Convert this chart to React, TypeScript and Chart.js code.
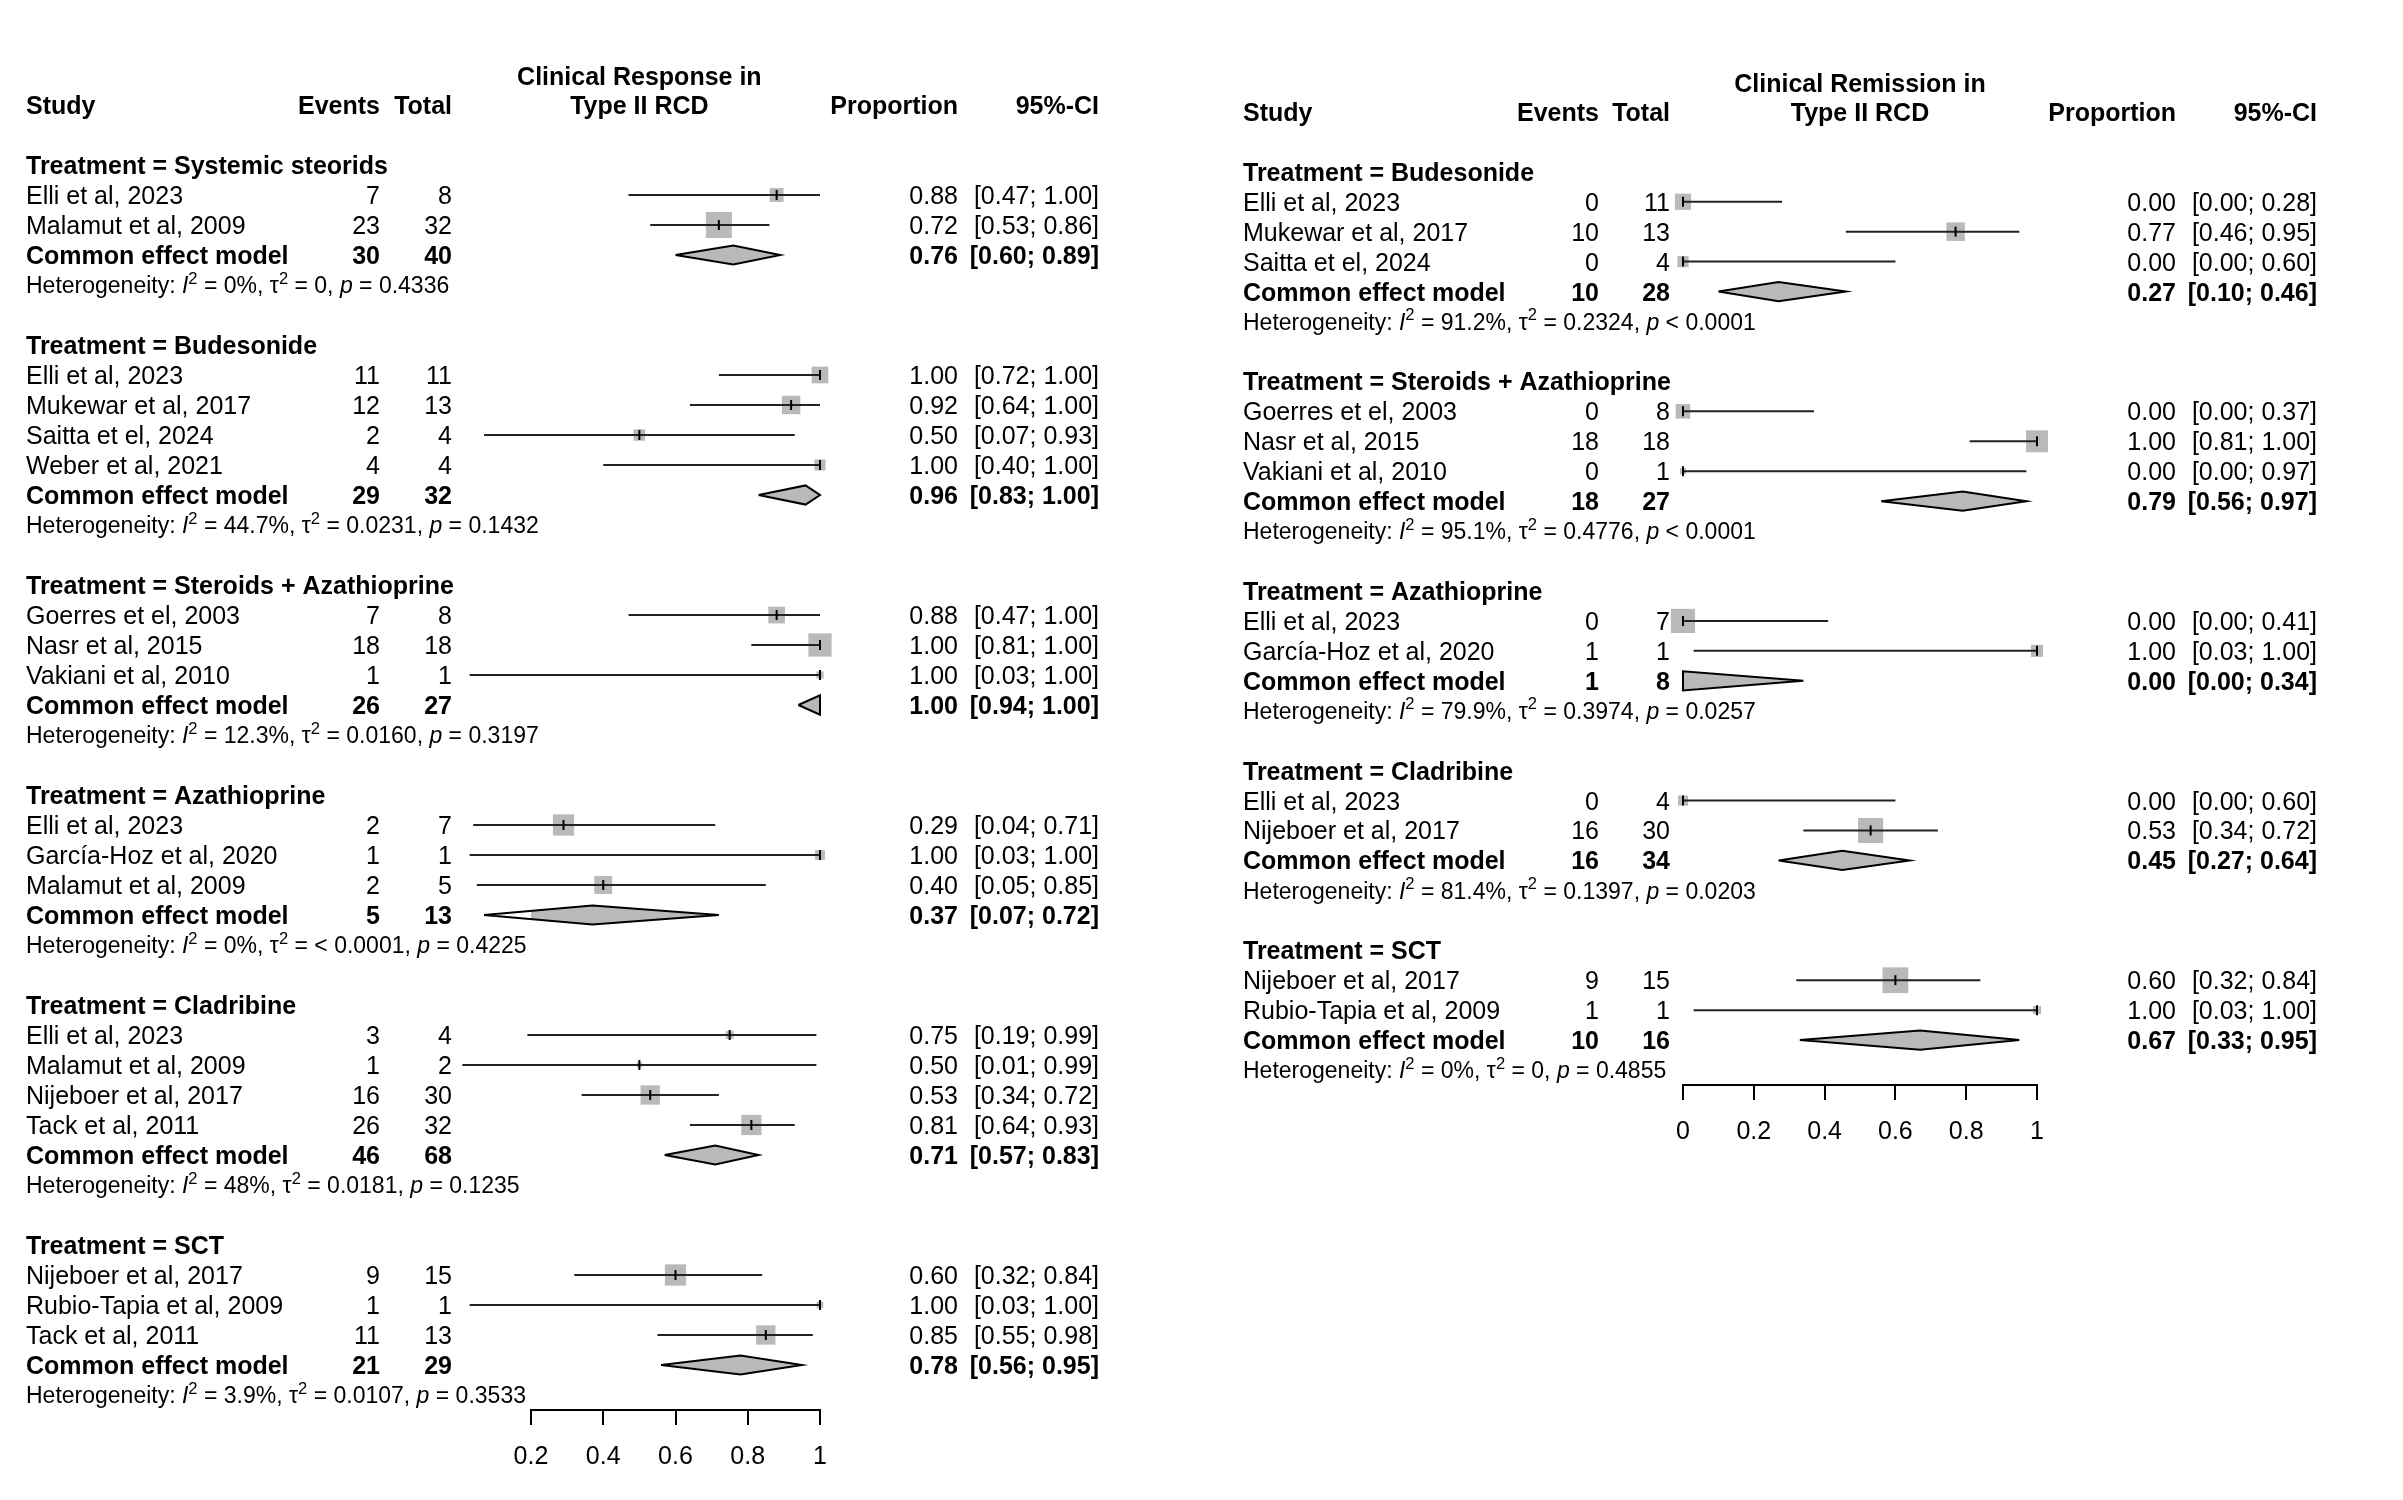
import React, { useEffect, useRef } from 'react';
import { Chart, registerables } from 'chart.js';

Chart.register(...registerables);

const FONT = '"Liberation Sans", Arial, Helvetica, sans-serif';

// ---------------- Left panel: Clinical Response ----------------
const respTitle = ['Clinical Response in', 'Type II RCD'];
const respGroups = ['Systemic steorids', 'Budesonide', 'Steroids + Azathioprine', 'Azathioprine', 'Cladribine', 'SCT'];
const respStudyGroup = [0, 0, 1, 1, 1, 1, 2, 2, 2, 3, 3, 3, 4, 4, 4, 4, 5, 5, 5];
const respStudies = [
  'Elli et al, 2023', 'Malamut et al, 2009',
  'Elli et al, 2023', 'Mukewar et al, 2017', 'Saitta et el, 2024', 'Weber et al, 2021',
  'Goerres et el, 2003', 'Nasr et al, 2015', 'Vakiani et al, 2010',
  'Elli et al, 2023', 'García-Hoz et al, 2020', 'Malamut et al, 2009',
  'Elli et al, 2023', 'Malamut et al, 2009', 'Nijeboer et al, 2017', 'Tack et al, 2011',
  'Nijeboer et al, 2017', 'Rubio-Tapia et al, 2009', 'Tack et al, 2011',
];
const respEvents = [7, 23, 11, 12, 2, 4, 7, 18, 1, 2, 1, 2, 3, 1, 16, 26, 9, 1, 11];
const respTotals = [8, 32, 11, 13, 4, 4, 8, 18, 1, 7, 1, 5, 4, 2, 30, 32, 15, 1, 13];
const respProp = [0.88, 0.72, 1.0, 0.92, 0.5, 1.0, 0.88, 1.0, 1.0, 0.29, 1.0, 0.4, 0.75, 0.5, 0.53, 0.81, 0.6, 1.0, 0.85];
const respLower = [0.47, 0.53, 0.72, 0.64, 0.07, 0.4, 0.47, 0.81, 0.03, 0.04, 0.03, 0.05, 0.19, 0.01, 0.34, 0.64, 0.32, 0.03, 0.55];
const respUpper = [1.0, 0.86, 1.0, 1.0, 0.93, 1.0, 1.0, 1.0, 1.0, 0.71, 1.0, 0.85, 0.99, 0.99, 0.72, 0.93, 0.84, 1.0, 0.98];
const respWeights = [22, 78, 32, 39, 15, 14, 32, 62, 6, 52, 11, 37, 7, 3, 43, 47, 52, 5, 43];
const respPooledEvents = [30, 29, 26, 5, 46, 21];
const respPooledTotals = [40, 32, 27, 13, 68, 29];
const respPooledProp = [0.76, 0.96, 1.0, 0.37, 0.71, 0.78];
const respPooledLower = [0.6, 0.83, 0.94, 0.07, 0.57, 0.56];
const respPooledUpper = [0.89, 1.0, 1.0, 0.72, 0.83, 0.95];
const respI2 = ['0%', '44.7%', '12.3%', '0%', '48%', '3.9%'];
const respTau2 = ['0', '0.0231', '0.0160', '< 0.0001', '0.0181', '0.0107'];
const respPval = ['= 0.4336', '= 0.1432', '= 0.3197', '= 0.4225', '= 0.1235', '= 0.3533'];
const respTicks = [0.2, 0.4, 0.6, 0.8, 1];
const respTickLabels = ['0.2', '0.4', '0.6', '0.8', '1'];

// ---------------- Right panel: Clinical Remission ----------------
const remTitle = ['Clinical Remission in', 'Type II RCD'];
const remGroups = ['Budesonide', 'Steroids + Azathioprine', 'Azathioprine', 'Cladribine', 'SCT'];
const remStudyGroup = [0, 0, 0, 1, 1, 1, 2, 2, 3, 3, 4, 4];
const remStudies = [
  'Elli et al, 2023', 'Mukewar et al, 2017', 'Saitta et el, 2024',
  'Goerres et el, 2003', 'Nasr et al, 2015', 'Vakiani et al, 2010',
  'Elli et al, 2023', 'García-Hoz et al, 2020',
  'Elli et al, 2023', 'Nijeboer et al, 2017',
  'Nijeboer et al, 2017', 'Rubio-Tapia et al, 2009',
];
const remEvents = [0, 10, 0, 0, 18, 0, 0, 1, 0, 16, 9, 1];
const remTotals = [11, 13, 4, 8, 18, 1, 7, 1, 4, 30, 15, 1];
const remProp = [0.0, 0.77, 0.0, 0.0, 1.0, 0.0, 0.0, 1.0, 0.0, 0.53, 0.6, 1.0];
const remLower = [0.0, 0.46, 0.0, 0.0, 0.81, 0.0, 0.0, 0.03, 0.0, 0.34, 0.32, 0.03];
const remUpper = [0.28, 0.95, 0.6, 0.37, 1.0, 0.97, 0.41, 1.0, 0.6, 0.72, 0.84, 1.0];
const remWeights = [36, 47, 17, 29, 66, 5, 80, 20, 14, 86, 91, 9];
const remPooledEvents = [10, 18, 1, 16, 10];
const remPooledTotals = [28, 27, 8, 34, 16];
const remPooledProp = [0.27, 0.79, 0.0, 0.45, 0.67];
const remPooledLower = [0.1, 0.56, 0.0, 0.27, 0.33];
const remPooledUpper = [0.46, 0.97, 0.34, 0.64, 0.95];
const remI2 = ['91.2%', '95.1%', '79.9%', '81.4%', '0%'];
const remTau2 = ['0.2324', '0.4776', '0.3974', '0.1397', '0'];
const remPval = ['< 0.0001', '< 0.0001', '= 0.0257', '= 0.0203', '= 0.4855'];
const remTicks = [0, 0.2, 0.4, 0.6, 0.8, 1];
const remTickLabels = ['0', '0.2', '0.4', '0.6', '0.8', '1'];

type Plot = {
  title: string[]; groups: string[]; studyGroup: number[]; studies: string[];
  events: number[]; totals: number[]; prop: number[]; lower: number[]; upper: number[]; weights: number[];
  pEvents: number[]; pTotals: number[]; pProp: number[]; pLower: number[]; pUpper: number[];
  i2: string[]; tau2: string[]; pval: string[]; ticks: number[]; tickLabels: string[];
};

type Geo = {
  left: number; width: number; xMin: number;
  padL: number; padR: number; padT: number; padB: number;
  studyX: number; eventsX: number; totalX: number; propX: number; ciX: number;
  boxScale: number;
};

const respPlot: Plot = {
  title: respTitle, groups: respGroups, studyGroup: respStudyGroup, studies: respStudies,
  events: respEvents, totals: respTotals, prop: respProp, lower: respLower, upper: respUpper, weights: respWeights,
  pEvents: respPooledEvents, pTotals: respPooledTotals, pProp: respPooledProp, pLower: respPooledLower, pUpper: respPooledUpper,
  i2: respI2, tau2: respTau2, pval: respPval, ticks: respTicks, tickLabels: respTickLabels,
};
const remPlot: Plot = {
  title: remTitle, groups: remGroups, studyGroup: remStudyGroup, studies: remStudies,
  events: remEvents, totals: remTotals, prop: remProp, lower: remLower, upper: remUpper, weights: remWeights,
  pEvents: remPooledEvents, pTotals: remPooledTotals, pProp: remPooledProp, pLower: remPooledLower, pUpper: remPooledUpper,
  i2: remI2, tau2: remTau2, pval: remPval, ticks: remTicks, tickLabels: remTickLabels,
};

const respGeo: Geo = {
  left: 0, width: 1200, xMin: 0.2,
  padL: 531, padR: 380, padT: 60, padB: 11,
  studyX: 26, eventsX: 380, totalX: 452, propX: 958, ciX: 1099, boxScale: 2.95,
};
const remGeo: Geo = {
  left: 1200, width: 1203, xMin: 0,
  padL: 483, padR: 366, padT: 67, padB: 336,
  studyX: 1243, eventsX: 1599, totalX: 1670, propX: 2176, ciX: 2317, boxScale: 2.7,
};

const MAIN = 25;
const HET = 23;
const GREY = '#b9b9b9';

function layoutRows(p: Plot) {
  const studyRow: number[] = new Array(p.studies.length).fill(0);
  const groupRow: number[] = [];
  const pooledRow: number[] = [];
  const hetRow: number[] = [];
  let r = 0;
  p.groups.forEach((_, g) => {
    groupRow.push(r++);
    p.studyGroup.forEach((sg, i) => {
      if (sg === g) studyRow[i] = r++;
    });
    pooledRow.push(r++);
    hetRow.push(r++);
    r++;
  });
  return { studyRow, groupRow, pooledRow, hetRow, last: hetRow[hetRow.length - 1] };
}

const ci = (lo: number, hi: number) => `[${lo.toFixed(2)}; ${hi.toFixed(2)}]`;

function buildConfig(p: Plot, g: Geo): any {
  const rows = layoutRows(p);
  const datasets: any[] = [];

  // estimate tick marks
  datasets.push({
    data: p.studies.map((_, i) => ({ x: p.prop[i], y: rows.studyRow[i] })),
    showLine: false,
    pointStyle: 'line',
    pointRotation: 90,
    pointRadius: 5,
    pointBorderColor: '#000',
    pointBorderWidth: 2,
    order: 0,
    clip: false,
  });
  // confidence interval lines
  p.studies.forEach((_, i) => {
    datasets.push({
      data: [
        { x: p.lower[i], y: rows.studyRow[i] },
        { x: p.upper[i], y: rows.studyRow[i] },
      ],
      showLine: true,
      borderColor: '#222',
      borderWidth: 2,
      pointRadius: 0,
      tension: 0,
      order: 1,
      clip: false,
    });
  });
  // weighted squares
  datasets.push({
    data: p.studies.map((_, i) => ({ x: p.prop[i], y: rows.studyRow[i] })),
    showLine: false,
    pointStyle: 'rect',
    pointRadius: p.weights.map((w) => (Math.sqrt(w) * g.boxScale) / 2 / Math.SQRT1_2),
    pointBackgroundColor: GREY,
    pointBorderWidth: 0,
    order: 2,
    clip: false,
  });
  // pooled diamonds
  const h = 0.32;
  p.pProp.forEach((est, k) => {
    const r = rows.pooledRow[k];
    datasets.push({
      data: [
        { x: p.pLower[k], y: r },
        { x: est, y: r - h },
        { x: p.pUpper[k], y: r },
        { x: est, y: r + h },
        { x: p.pLower[k], y: r },
      ],
      showLine: true,
      fill: 'shape',
      backgroundColor: GREY,
      borderColor: '#000',
      borderWidth: 2,
      borderJoinStyle: 'miter',
      pointRadius: 0,
      tension: 0,
      order: 3,
      clip: false,
    });
  });

  const textPlugin = {
    id: 'forestText',
    afterDraw(chart: any) {
      const ctx: CanvasRenderingContext2D = chart.ctx;
      const ys = chart.scales.y;
      const xs = chart.scales.x;
      const Y = (r: number) => ys.getPixelForValue(r);
      const off = g.left;
      ctx.save();
      ctx.fillStyle = '#000';
      ctx.textBaseline = 'alphabetic';
      const put = (s: string, px: number, r: number, align: CanvasTextAlign, bold = false, size = MAIN) => {
        ctx.font = `${bold ? 'bold ' : ''}${size}px ${FONT}`;
        ctx.textAlign = align;
        ctx.fillText(s, px - off, Y(r) + size * 0.358);
      };
      const cx = xs.getPixelForValue(0.5) + off;
      put(p.title[0], cx, -2.96, 'center', true);
      put(p.title[1], cx, -2, 'center', true);
      put('Study', g.studyX, -2, 'left', true);
      put('Events', g.eventsX, -2, 'right', true);
      put('Total', g.totalX, -2, 'right', true);
      put('Proportion', g.propX, -2, 'right', true);
      put('95%-CI', g.ciX, -2, 'right', true);

      p.groups.forEach((name, k) => {
        put(`Treatment = ${name}`, g.studyX, rows.groupRow[k], 'left', true);
        const pr = rows.pooledRow[k];
        put('Common effect model', g.studyX, pr, 'left', true);
        put(String(p.pEvents[k]), g.eventsX, pr, 'right', true);
        put(String(p.pTotals[k]), g.totalX, pr, 'right', true);
        put(p.pProp[k].toFixed(2), g.propX, pr, 'right', true);
        put(ci(p.pLower[k], p.pUpper[k]), g.ciX, pr, 'right', true);

        // heterogeneity line (rich text)
        const segs: { t: string; it?: boolean; sup?: boolean }[] = [
          { t: 'Heterogeneity: ' },
          { t: 'I', it: true },
          { t: '2', sup: true },
          { t: ` = ${p.i2[k]}, ` },
          { t: 'τ' },
          { t: '2', sup: true },
          { t: ` = ${p.tau2[k]}, ` },
          { t: 'p', it: true },
          { t: ` ${p.pval[k]}` },
        ];
        let x = g.studyX - off;
        const base = Y(rows.hetRow[k]) + HET * 0.358;
        ctx.textAlign = 'left';
        segs.forEach((s) => {
          const size = s.sup ? HET * 0.72 : HET;
          ctx.font = `${s.it ? 'italic ' : ''}${size}px ${FONT}`;
          const yy = s.sup ? base - HET * 0.42 : base;
          ctx.fillText(s.t, x, yy);
          x += ctx.measureText(s.t).width;
        });
      });

      p.studies.forEach((name, i) => {
        const r = rows.studyRow[i];
        put(name, g.studyX, r, 'left');
        put(String(p.events[i]), g.eventsX, r, 'right');
        put(String(p.totals[i]), g.totalX, r, 'right');
        put(p.prop[i].toFixed(2), g.propX, r, 'right');
        put(ci(p.lower[i], p.upper[i]), g.ciX, r, 'right');
      });
      ctx.restore();
    },
  };

  return {
    type: 'scatter',
    data: { datasets },
    plugins: [textPlugin],
    options: {
      animation: false,
      responsive: false,
      devicePixelRatio: 1,
      events: [],
      layout: { padding: { left: g.padL, right: g.padR, top: g.padT, bottom: g.padB } },
      plugins: { legend: { display: false }, tooltip: { enabled: false } },
      scales: {
        x: {
          type: 'linear',
          position: 'bottom',
          min: g.xMin,
          max: 1,
          afterBuildTicks: (axis: any) => {
            axis.ticks = p.ticks.map((v) => ({ value: v }));
          },
          ticks: {
            autoSkip: false,
            maxRotation: 0,
            padding: 17,
            color: '#000',
            font: { family: FONT, size: MAIN },
            callback: (_v: any, i: number) => p.tickLabels[i],
          },
          grid: { drawOnChartArea: false, drawTicks: true, tickLength: 15, color: '#000', lineWidth: 2 },
          border: { display: true, color: '#000', width: 2 },
        },
        y: {
          type: 'linear',
          display: false,
          reverse: true,
          min: -3.5,
          max: rows.last + 0.5,
        },
      },
    },
  };
}

function Forest({ plot, geo }: { plot: Plot; geo: Geo }) {
  const ref = useRef<HTMLCanvasElement>(null);
  useEffect(() => {
    const chart = new Chart(ref.current as HTMLCanvasElement, buildConfig(plot, geo));
    return () => chart.destroy();
  }, [plot, geo]);
  return (
    <canvas
      ref={ref}
      width={geo.width}
      height={1500}
      style={{ position: 'absolute', left: geo.left, top: 0, width: geo.width, height: 1500 }}
    />
  );
}

export default function App() {
  return (
    <div style={{ position: 'absolute', left: 0, top: 0, width: 2403, height: 1500, background: '#fff', overflow: 'hidden' }}>
      <Forest plot={respPlot} geo={respGeo} />
      <Forest plot={remPlot} geo={remGeo} />
    </div>
  );
}
